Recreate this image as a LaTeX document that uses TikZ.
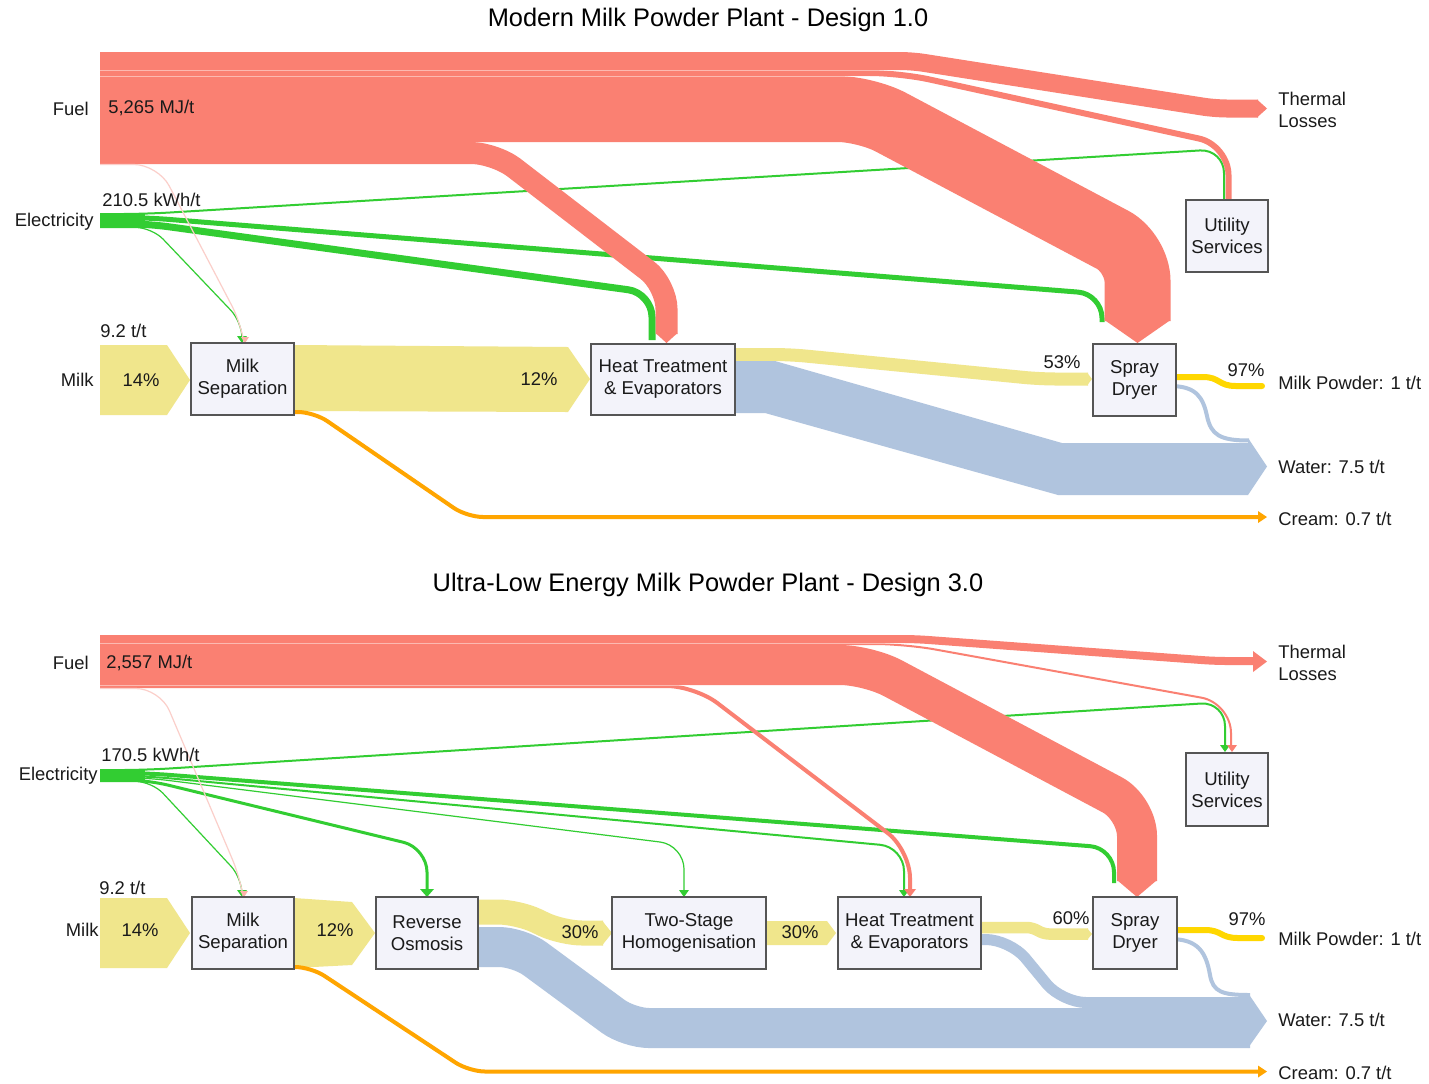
\documentclass[tikz,border=0pt]{standalone}
\usepackage{fontspec}
\setmainfont{Liberation Sans}
\definecolor{fuelc}{HTML}{FA8072}
\definecolor{elecc}{HTML}{32CD32}
\definecolor{milkc}{HTML}{F0E68C}
\definecolor{waterc}{HTML}{B0C4DE}
\definecolor{creamc}{HTML}{FFA500}
\definecolor{powderc}{HTML}{FFD700}
\definecolor{boxfill}{HTML}{F3F3FA}
\definecolor{boxline}{HTML}{555555}
\definecolor{faintc}{HTML}{FBCFCA}
\definecolor{txt}{HTML}{1A1A1A}
\newcommand\mytipdown[5]{\fill[#1] (#2-#4,#3-#5) -- (#2+#4,#3-#5) -- (#2,#3) -- cycle;}
\newcommand\mytipright[5]{\fill[#1] (#2-#5,#3-#4) -- (#2,#3) -- (#2-#5,#3+#4) -- cycle;}
\tikzset{
  fuel/.style={draw=fuelc, line width=#1*0.5pt},
  elec/.style={draw=elecc, line width=#1*0.5pt},
  milk/.style={draw=milkc, line width=#1*0.5pt},
  water/.style={draw=waterc, line width=#1*0.5pt},
  cream/.style={draw=creamc, line width=#1*0.5pt},
  powder/.style={draw=powderc, line width=#1*0.5pt},
  faint/.style={draw=faintc, line width=0.6pt},
  seam/.style={draw=white, opacity=0.45, line width=0.4pt},
  box/.style={draw=boxline, fill=boxfill, line width=0.7pt, align=center, inner sep=0pt,
    text=txt, font=\fontsize{9.3pt}{11pt}\selectfont},
  lab/.style={inner sep=0pt, text=txt, font=\fontsize{9.2pt}{11pt}\selectfont},
  ttl/.style={inner sep=0pt, text=black, font=\fontsize{12.7pt}{15pt}\selectfont},
}
\begin{document}
\begin{tikzpicture}[x=0.5pt, y=-0.5pt]
\useasboundingbox[fill=white] (0,0) rectangle (1429,1083);

% ================= TOP: Design 1.0 =================
\node[ttl] (t1) at (708,20) {Modern Milk Powder Plant - Design 1.0};

% electricity
\fill[elecc] (100,213) rectangle (145,228);
\draw[elec=2, rounded corners=12pt] (100,214) -- (145,214) -- (1224,149) -- (1224,200);
\draw[elec=5, rounded corners=12pt] (100,217.5) -- (145,217.5) -- (1102,294) -- (1102,322);
\draw[elec=7, rounded corners=12pt] (100,223.5) -- (145,223.5) -- (652,293) -- (652,340);
\draw[elec=1.2, rounded corners=8pt] (100,227.5) -- (152,227.5) -- (242,322) -- (242,337);
\mytipdown{elecc}{242}{343}{5}{7}

% fuel
\draw[fuel=18, rounded corners=6pt] (100,61) -- (912,61) -- (1215,108.5) -- (1258,108.5);
\fill[fuelc] (1257,99.5) -- (1267,108.5) -- (1257,117.5) -- cycle;
\draw[fuel=6, rounded corners=15pt] (100,73) -- (900,73) -- (1228.5,145) -- (1228.5,200);
\draw[fuel=66, rounded corners=14pt] (100,109) -- (866,109) -- (1137.5,253) -- (1137.5,321);
\fill[fuelc] (1104.5,320) -- (1170.5,320) -- (1137.5,343) -- cycle;
\draw[fuel=22, rounded corners=12pt] (100,153) -- (495,153) -- (666.5,285) -- (666.5,334);
\fill[fuelc] (655.5,333) -- (677.5,333) -- (666.5,343) -- cycle;
\draw[faint, rounded corners=12pt] (100,164.5) -- (158,164.5) -- (243,327) -- (244,337);
\mytipdown{fuelc!60}{245}{343}{4}{6}
\draw[seam] (100,70) -- (900,70);
\draw[seam] (100,76) -- (870,76);

% milk
\fill[milkc] (100,345) -- (167,345) -- (190,380) -- (167,415) -- (100,415) -- cycle;
\fill[milkc] (294,345) -- (568,347) -- (590,379) -- (568,412) -- (294,411) -- cycle;
\draw[milk=13, rounded corners=8pt] (730,354.5) -- (790,354.5) -- (1040,379) -- (1088,379);
\fill[milkc] (1087,372.5) -- (1092,379) -- (1087,385.5) -- cycle;

% water
\fill[waterc] (730,361) -- (775,361) -- (1062,443) -- (1248,443) -- (1248,438) -- (1267,466.5)
  -- (1248,495) -- (1058,495) -- (765,413) -- (730,413) -- cycle;
\draw[water=4] (1170,386) .. controls (1197,386) and (1203,398) .. (1207,416)
  .. controls (1211,435) and (1220,440.5) .. (1249,440.5);

% milk powder
\draw[powder=6, line cap=round] (1170,377) -- (1203,377) .. controls (1220,377) and (1218,386) .. (1236,386) -- (1262,386);

% cream
\draw[cream=4, rounded corners=8pt] (290,412) -- (314,412) -- (467,517) -- (1259,517);
\mytipright{creamc}{1267}{517}{6}{9}

% boxes
\node[box, minimum width=51.5pt, minimum height=36pt] (ms1) at (242.5,379) {Milk\\Separation};
\node[box, minimum width=72pt, minimum height=35.5pt] (ht1) at (663,379.5) {Heat Treatment\\\& Evaporators};
\node[box, minimum width=41.5pt, minimum height=36pt] (sd1) at (1134.5,380) {Spray\\Dryer};
\node[box, minimum width=41pt, minimum height=36pt] (us1) at (1227,236) {Utility\\Services};

% labels
\node[lab, anchor=east] (fl1) at (89,109) {Fuel};
\node[lab, anchor=west] (fv1) at (108,108) {5,265 MJ/t};
\node[lab, anchor=west] (ev1) at (102,200) {210.5 kWh/t};
\node[lab, anchor=east] (el1) at (94,222) {Electricity};
\node[lab, anchor=west] (mv1) at (100,331) {9.2 t/t};
\node[lab, anchor=east] (ml1) at (94,380) {Milk};
\node[lab] (p11) at (141,380) {14\%};
\node[lab] (p12) at (539,379) {12\%};
\node[lab] (p13) at (1062,362) {53\%};
\node[lab] (p14) at (1246,370) {97\%};
\node[lab, anchor=west, align=left] (tl1) at (1278,110) {Thermal\\Losses};
\node[lab, anchor=west] (mp1) at (1278,383) {Milk Powder: 1 t/t};
\node[lab, anchor=west] (wa1) at (1278,467) {Water: 7.5 t/t};
\node[lab, anchor=west] (cr1) at (1278,519) {Cream: 0.7 t/t};

% ================= BOTTOM: Design 3.0 =================
\node[ttl] (t2) at (708,585) {Ultra-Low Energy Milk Powder Plant - Design 3.0};

% electricity
\fill[elecc] (100,769) rectangle (145,782);
\draw[elec=2, rounded corners=12pt] (100,770) -- (145,770) -- (1225,702) -- (1225,746);
\draw[elec=4, rounded corners=12pt] (100,773) -- (145,773) -- (1114,848) -- (1114,883);
\draw[elec=2, rounded corners=12pt] (100,776) -- (145,776) -- (904,847) -- (904,891);
\draw[elec=1.2, rounded corners=12pt] (100,777.5) -- (145,777.5) -- (684,845) -- (684,891);
\draw[elec=3, rounded corners=12pt] (100,779.5) -- (145,779.5) -- (427,848) -- (427,891);
\draw[elec=1.2, rounded corners=8pt] (100,781.5) -- (152,781.5) -- (242,878) -- (242,891);
\mytipdown{elecc}{1225}{752}{5}{7}
\mytipdown{elecc}{904}{897}{5}{7}
\mytipdown{elecc}{684}{897}{5}{7}
\mytipdown{elecc}{427}{897}{7}{8}
\mytipdown{elecc}{242}{897}{5}{7}

% fuel
\draw[fuel=8, rounded corners=6pt] (100,639) -- (915,639) -- (1215,661) -- (1255,661);
\fill[fuelc] (1253,651) -- (1267,661.5) -- (1253,672) -- cycle;
\draw[fuel=2, rounded corners=15pt] (100,644) -- (905,644) -- (1231,703) -- (1231,747);
\mytipdown{fuelc}{1232}{752}{5}{7}
\draw[fuel=40, rounded corners=14pt] (100,665) -- (868,665) -- (1137,808) -- (1137,881);
\fill[fuelc] (1117,880) -- (1157,880) -- (1137,897) -- cycle;
\draw[fuel=4, rounded corners=14pt] (100,686) -- (695,686) -- (910,850) -- (910,891);
\mytipdown{fuelc}{910}{897}{6}{8}
\draw[faint, rounded corners=12pt] (100,688.5) -- (160,688.5) -- (242,882) -- (243,891);
\mytipdown{fuelc!60}{244}{897}{4}{6}
\draw[seam] (100,643) -- (905,643);
\draw[seam] (100,685) -- (690,685);

% milk
\fill[milkc] (100,898) -- (167,898) -- (190,933) -- (167,968) -- (100,968) -- cycle;
\fill[milkc] (294,898) -- (352,902) -- (375,933) -- (352,965) -- (294,968) -- cycle;
\draw[milk=25, rounded corners=10pt] (470,912) -- (518,912) -- (562,933) -- (603,933);
\fill[milkc] (602,920.5) -- (612,933) -- (602,945.5) -- cycle;
\fill[milkc] (766,921) -- (827,921) -- (836,933) -- (827,945) -- (766,945) -- cycle;
\draw[milk=11.5, rounded corners=3pt] (975,927.5) -- (1033,927.5) -- (1043,934) -- (1088,934);
\fill[milkc] (1087,928) -- (1092,934) -- (1087,940) -- cycle;

% water
\draw[water=40, rounded corners=10pt] (470,947) -- (519,947) -- (629,1028) -- (1250,1028);
\draw[water=11, rounded corners=12pt] (975,939.5) -- (1010,939.5) -- (1062,1002.5) -- (1250,1002.5);
\draw[water=4] (1170,939) .. controls (1198,939) and (1206,952) .. (1210,975)
  .. controls (1213,992) and (1222,995) .. (1250,995);
\fill[waterc] (1248,993) -- (1267,1021) -- (1248,1048) -- cycle;

% milk powder
\draw[powder=6, line cap=round] (1170,930) -- (1205,930) .. controls (1222,930) and (1220,938) .. (1238,938) -- (1262,938);

% cream
\draw[cream=4, rounded corners=8pt] (290,967) -- (311,967) -- (469,1071.5) -- (1259,1071.5);
\mytipright{creamc}{1267}{1071.5}{6}{9}

% boxes
\node[box, minimum width=51pt, minimum height=36pt] (ms2) at (243,933) {Milk\\Separation};
\node[box, minimum width=51pt, minimum height=36pt] (ro2) at (427,933) {Reverse\\Osmosis};
\node[box, minimum width=77pt, minimum height=36pt] (ts2) at (689,933) {Two-Stage\\Homogenisation};
\node[box, minimum width=71.5pt, minimum height=36pt] (ht2) at (909.5,933) {Heat Treatment\\\& Evaporators};
\node[box, minimum width=42pt, minimum height=36pt] (sd2) at (1135,933) {Spray\\Dryer};
\node[box, minimum width=41pt, minimum height=36.5pt] (us2) at (1227,789.5) {Utility\\Services};

% labels
\node[lab, anchor=east] (fl2) at (89,663) {Fuel};
\node[lab, anchor=west] (fv2) at (106,663) {2,557 MJ/t};
\node[lab, anchor=west] (ev2) at (101,755) {170.5 kWh/t};
\node[lab, anchor=east] (el2) at (98,776) {Electricity};
\node[lab, anchor=west] (mv2) at (99,888) {9.2 t/t};
\node[lab, anchor=east] (ml2) at (99,930) {Milk};
\node[lab] (p21) at (140,930) {14\%};
\node[lab] (p22) at (335,930) {12\%};
\node[lab] (p23) at (580,932) {30\%};
\node[lab] (p24) at (800,932) {30\%};
\node[lab] (p25) at (1071,918) {60\%};
\node[lab] (p26) at (1247,919) {97\%};
\node[lab, anchor=west, align=left] (tl2) at (1278,663) {Thermal\\Losses};
\node[lab, anchor=west] (mp2) at (1278,939) {Milk Powder: 1 t/t};
\node[lab, anchor=west] (wa2) at (1278,1020) {Water: 7.5 t/t};
\node[lab, anchor=west] (cr2) at (1278,1073) {Cream: 0.7 t/t};
\end{tikzpicture}
\end{document}
